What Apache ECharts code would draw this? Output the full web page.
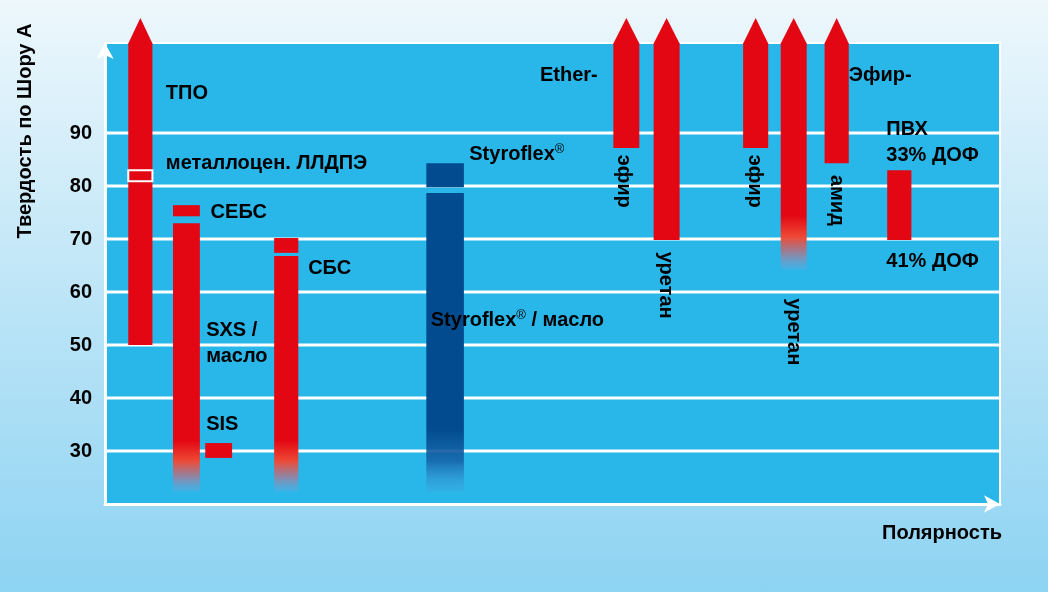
<!DOCTYPE html>
<html><head><meta charset="utf-8">
<script src="https://cdn.jsdelivr.net/npm/echarts@6/dist/echarts.min.js"></script>
<style>
html,body{margin:0;padding:0;}
#c{width:1048px;height:592px;background:linear-gradient(to bottom,#edf7fc 0%,#8dd3f2 100%);}
</style>
</head><body><div id="c"></div>
<script>
// ---- data ----
const tickLabels = [30, 40, 50, 60, 70, 80, 90];
const gridValues = [30, 40, 50, 60, 70, 80, 90];

const barNames  = ['ТПО', 'металлоцен. ЛЛДПЭ', 'СЕБС', 'SXS / масло (СЕБС)', 'SIS', 'СБС', 'SXS / масло (СБС)',
                   'Styroflex®', 'Styroflex® / масло', 'Ether-эфир', 'Ether-уретан', 'Эфир-эфир', 'Эфир-уретан', 'Эфир-амид', 'ПВХ'];
const barX0     = [2.6, 2.6, 7.6, 7.6, 11.2, 18.9, 18.9, 35.9, 35.9, 56.8, 61.3, 71.3, 75.5, 80.4, 87.4];
const barX1     = [5.3, 5.3, 10.6, 10.6, 14.2, 21.6, 21.6, 40.1, 40.1, 59.7, 64.2, 74.1, 78.4, 83.1, 90.1];
const barLow    = [50, 80.9, 74.3, 22.3, 28.7, 67.4, 22.3, 79.8, 22.3, 87.2, 69.8, 87.2, 64.2, 84.3, 69.8];
const barHigh   = [107, 83, 76.4, 73, 31.5, 70.2, 66.8, 84.3, 78.7, 107, 107, 107, 107, 107, 83];
const barFade   = [null, null, null, 32, null, null, 32, null, 34, null, null, null, 74.5, null, null];
const barArrow  = [1, 0, 0, 0, 0, 0, 0, 0, 0, 1, 1, 1, 1, 1, 0];
const barTone   = ['red', 'marker', 'red', 'red', 'red', 'red', 'red', 'blue', 'blue', 'red', 'red', 'red', 'red', 'red', 'red'];

const labelTexts = ['ТПО', 'металлоцен. ЛЛДПЭ', 'СЕБС', 'СБС', 'SXS /', 'масло', 'SIS', 'Styroflex{s|®}', 'Styroflex{s|®} / масло',
                    'Ether-', 'Эфир-', 'эфир', 'уретан', 'эфир', 'уретан', 'амид', 'ПВХ', '33% ДОФ', '41% ДОФ'];
const labelX = [6.8, 6.8, 11.8, 22.7, 11.3, 11.3, 11.3, 40.7, 36.4, 48.6, 83.1, 57.9, 62.6, 72.6, 76.9, 81.7, 87.3, 87.3, 87.3];
const labelY = [97.5, 84.3, 75.1, 64.5, 52.8, 47.9, 35.1, 86.0, 54.7, 100.9, 100.9, 80.9, 61.3, 80.9, 52.5, 77.3, 90.6, 85.7, 65.8];
const labelVertical = [0, 0, 0, 0, 0, 0, 0, 0, 0, 0, 0, 1, 1, 1, 1, 1, 0, 0, 0];

const yAxisTitle = 'Твердость по Шору А';
const xAxisTitle = 'Полярность';

// ---- styles ----
const FAMILY = '"Liberation Sans", Arial, sans-serif';
const FSIZE = 20;
const RED = '#e30613';
const BLUE = '#034b8f';
const PLOT_BG = '#29b6e9';

function fillFor(i, topY, botY, api) {
  const tone = barTone[i];
  const base = tone === 'blue' ? BLUE : RED;
  const fade = barFade[i];
  if (fade == null) return base;
  const fy = api.coord([0, fade])[1];
  const f = Math.max(0, Math.min(1, (fy - topY) / (botY - topY)));
  const r = 1 - f;
  if (tone === 'blue') {
    return {type: 'linear', x: 0, y: 0, x2: 0, y2: 1, colorStops: [
      {offset: 0, color: BLUE}, {offset: f, color: BLUE},
      {offset: f + r * 0.5, color: 'rgba(20,95,165,0.85)'},
      {offset: 1, color: 'rgba(70,160,220,0.25)'}]};
  }
  return {type: 'linear', x: 0, y: 0, x2: 0, y2: 1, colorStops: [
    {offset: 0, color: RED}, {offset: f, color: RED},
    {offset: f + r * 0.4, color: '#ee4a36'},
    {offset: f + r * 0.72, color: 'rgba(150,130,160,0.9)'},
    {offset: 1, color: 'rgba(120,165,215,0.25)'}]};
}

const chart = echarts.init(document.getElementById('c'));
chart.setOption({
  backgroundColor: 'transparent',
  animation: false,
  grid: {left: 105, right: 48, top: 43, bottom: 88, show: true, backgroundColor: PLOT_BG, borderColor: '#ffffff', borderWidth: 2},
  xAxis: {
    type: 'value', min: 0, max: 100,
    axisLine: {show: true, lineStyle: {color: '#ffffff', width: 3}, symbol: ['none', 'arrow'], symbolSize: [13, 16]},
    axisTick: {show: false}, axisLabel: {show: false}, splitLine: {show: false}
  },
  yAxis: {
    type: 'value', min: 20, max: 107, interval: 10,
    axisLine: {show: true, lineStyle: {color: '#ffffff', width: 3}, symbol: ['none', 'arrow'], symbolSize: [13, 16]},
    axisTick: {show: false}, splitLine: {show: false},
    axisLabel: {
      margin: 13, color: '#000', fontSize: FSIZE, fontWeight: 'bold', fontFamily: FAMILY,
      formatter: v => tickLabels.indexOf(v) >= 0 ? String(v) : ''
    }
  },
  graphic: [
    {type: 'text', x: 25, y: 131, rotation: Math.PI / 2,
     style: {text: yAxisTitle, fill: '#000', fontSize: FSIZE, fontWeight: 'bold', fontFamily: FAMILY, align: 'center', verticalAlign: 'middle'}},
    {type: 'text', x: 1002, y: 533,
     style: {text: xAxisTitle, fill: '#000', fontSize: FSIZE, fontWeight: 'bold', fontFamily: FAMILY, align: 'right', verticalAlign: 'middle'}}
  ],
  series: [
    {
      type: 'custom', z: 1, silent: true,
      data: gridValues.map(v => [v]),
      renderItem: (params, api) => {
        const v = api.value(0);
        const a = api.coord([0, v]), b = api.coord([100, v]);
        return {type: 'line', shape: {x1: a[0], y1: a[1], x2: b[0], y2: b[1]}, style: {stroke: '#ffffff', lineWidth: 3}};
      }
    },
    {
      type: 'custom', z: 2, silent: true, clip: false,
      data: barNames.map((n, i) => [barX0[i], barX1[i], barLow[i], barHigh[i]]),
      renderItem: (params, api) => {
        const i = params.dataIndex;
        const tl = api.coord([api.value(0), api.value(3)]);
        const br = api.coord([api.value(1), api.value(2)]);
        const w = br[0] - tl[0], h = br[1] - tl[1];
        const marker = barTone[i] === 'marker';
        const children = [{
          type: 'rect', shape: {x: tl[0], y: tl[1], width: w, height: h},
          style: {fill: marker ? RED : fillFor(i, tl[1], br[1], api), stroke: marker ? '#ffffff' : null, lineWidth: marker ? 2 : 0}
        }];
        if (barArrow[i]) {
          children.push({type: 'polygon', shape: {points: [[tl[0], tl[1] + 0.5], [tl[0] + w / 2, tl[1] - 25], [br[0], tl[1] + 0.5]]}, style: {fill: RED}});
        }
        return {type: 'group', children};
      }
    },
    {
      type: 'custom', z: 3, silent: true, clip: false,
      data: labelTexts.map((t, i) => [labelX[i], labelY[i]]),
      renderItem: (params, api) => {
        const i = params.dataIndex;
        const p = api.coord([api.value(0), api.value(1)]);
        const vert = labelVertical[i] === 1;
        return {
          type: 'text', x: p[0], y: p[1], rotation: vert ? -Math.PI / 2 : 0,
          style: {
            text: labelTexts[i], fill: '#000', fontSize: FSIZE, fontWeight: 'bold', fontFamily: FAMILY,
            align: vert ? 'center' : 'left', verticalAlign: 'middle',
            rich: {s: {fontSize: 13, fontWeight: 'normal', fontFamily: FAMILY, fill: '#000', verticalAlign: 'top', padding: [0, 0, 9, 0]}}
          }
        };
      }
    }
  ]
});
</script></body></html>
